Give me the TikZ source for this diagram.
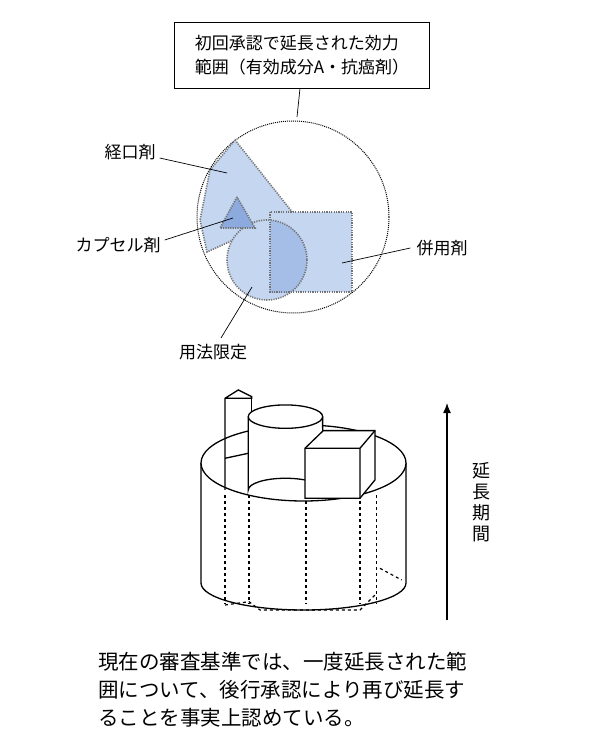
\documentclass[tikz,border=0pt]{standalone}
\usepackage{fontspec}
\setmainfont{Noto Sans CJK JP}
\usetikzlibrary{arrows.meta}
\definecolor{lb}{RGB}{196,214,240}
\definecolor{mb}{RGB}{165,190,232}
\definecolor{db}{RGB}{140,170,222}
\begin{document}
\begin{tikzpicture}[x=1pt,y=-1pt,
 dotb/.style={draw=gray!90!black,line width=1.6pt,dash pattern=on 1.2pt off 1.2pt},
 lbl/.style={font=\fontsize{17}{20}\selectfont,inner sep=0pt},
 lead/.style={draw=black,line width=0.7pt},
 thick3/.style={line width=1.3pt}]
\useasboundingbox (0,0) rectangle (600,751);
% callout
\node[draw,line width=0.7pt,minimum width=255pt,minimum height=66pt,align=left,font=\fontsize{17}{24}\selectfont] (box) at (302,55) {初回承認で延長された効力\\範囲（有効成分A・抗癌剤）};
\node[circle,draw,dash pattern=on 1pt off 1pt,line width=1pt,minimum size=192pt,inner sep=0pt] (big) at (293,217) {};
\draw[lead] (box.south) ++(-2,0) coordinate (bs) -- (297,117) coordinate (be);
% shapes
\fill[lb] (235,140) -- (293,213) -- (207,252) -- (200,220) -- (210,170) -- cycle;
\draw[dotb] (235,140) -- (293,213) -- (207,252) -- (200,220) -- (210,170) -- cycle;
\fill[lb] (267,260) circle (40);
\fill[lb] (270,212) rectangle (352,292);
\begin{scope}\clip (270,212) rectangle (352,292);
\fill[mb] (267,260) circle (40);\end{scope}
\draw[dotb] (267,260) circle (40);
\draw[dotb] (270,212) rectangle (352,292);
\fill[db] (237,197) -- (220,228) -- (255,228) -- cycle;
\draw[dotb] (237,197) -- (220,228) -- (255,228) -- cycle;
% labels
\node[lbl] (l1) at (130,152) {経口剤};
\node[lbl] (l2) at (118,245) {カプセル剤};
\node[lbl] (l3) at (442,248) {併用剤};
\node[lbl] (l4) at (213,352) {用法限定};
\draw[lead] (l1.east) ++(4,6) -- (227,173);
\draw[lead] (l2.east) ++(4,-5) -- (233,218);
\draw[lead] (l3.west) ++(-6,0) -- (342,263);
\draw[lead] (l4.north) ++(8,-6) -- (252,287);
% big cylinder
\begin{scope}[thick3]
\draw[fill=white] (201,463) -- (201,583) arc[start angle=180,end angle=0,x radius=102.5,y radius=27] -- (406,463);
\draw[fill=white] (303.5,463) ellipse[x radius=102.5,y radius=38];
\end{scope}
\begin{scope}[dashed,line width=1.2pt]
\foreach \zx in {135,207,378,540,590}{\draw ({180+\zx/3},{380+345/3}) -- ({180+\zx/3},{380+672/3});}
\draw ({180+135/3},{380+675/3}) -- ({180+207/3},{380+665/3}) -- ({180+240/3},{380+690/3}) -- ({180+540/3},{380+690/3}) -- ({180+590/3},{380+640/3});
\draw ({180+600/3},{380+565/3}) -- ({180+665/3},{380+600/3});
\end{scope}
\begin{scope}[thick3,x=0.3333pt,y=-0.3333pt,shift={(540,1140)}]
% tower
\draw[fill=white] (135,330) -- (135,55) -- (175,30) -- (215,50) -- (215,55) -- (135,55);
\draw (215,55) -- (215,100) -- (230,100);
\draw (135,235) -- (205,220);
% middle cylinder
\draw[fill=white] (205,110) -- (205,330) arc[start angle=180,end angle=0,x radius=37.2pt,y radius=11.7pt] -- (428,110);
\draw[fill=white] (316.5,110) ellipse[x radius=37.2pt,y radius=11.7pt];
% box
\draw[fill=white] (375,205) -- (430,152) -- (585,152) -- (585,300) -- (540,355) -- (375,355) -- cycle;
\draw (375,205) -- (540,205) -- (585,152) (540,205) -- (540,355);
\end{scope}
% arrow
\coordinate (a1) at (447,620); \coordinate (a2) at (447,403);
\draw[line width=1.3pt,-{Latex[length=10pt,width=8pt]}] (a1) -- (a2);
\node[align=center,font=\fontsize{18}{21}\selectfont] (per) at (481,502) {延\\長\\期\\間};
\node[align=left,anchor=north west,font=\fontsize{20.5}{28}\selectfont,inner sep=0pt] (txt) at (98,652) {現在の審査基準では、一度延長された範\\囲について、後行承認により再び延長す\\ることを事実上認めている。};
\end{tikzpicture}
\end{document}
